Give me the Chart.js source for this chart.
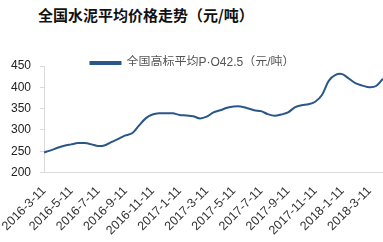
<!DOCTYPE html>
<html>
<head>
<meta charset="utf-8">
<script src="https://cdn.jsdelivr.net/npm/chart.js@4.4.1/dist/chart.umd.min.js"></script>
<style>
    html, body { margin: 0; padding: 0; background: #fff; }
    #wrap { position: relative; width: 383px; height: 242px; }
    #title {
        position: absolute; left: 38px; top: 4px;
        font: bold 15px "Noto Sans CJK SC", sans-serif; color: #111;
    }
    canvas { position: absolute; left: 0; top: 0; }
</style>
</head>
<body>
<div id="wrap">
    <div id="title">全国水泥平均价格走势（元/吨）</div>
    <canvas id="chart" width="383" height="242"></canvas>
</div>
<script>
// x ticks every 2 months, one data point every half month
const xTickLabels = ['2016-3-11', '2016-5-11', '2016-7-11', '2016-9-11', '2016-11-11', '2017-1-11',
    '2017-3-11', '2017-5-11', '2017-7-11', '2017-9-11', '2017-11-11', '2018-1-11', '2018-3-11'];
const seriesName = '全国高标平均P·O42.5（元/吨）';
const priceValues = [
    247, 252, 258, 263, 266, 269, 269, 266, 262, 264,
    272, 279, 287, 292, 310, 327, 336, 339, 339, 339,
    335, 334, 332, 327, 331, 341, 346, 352, 355, 355,
    351, 346, 344, 337, 333, 336, 341, 353, 358, 360,
    366, 382, 415, 429, 431, 420, 409, 404, 400, 403,
    420
];
const yTicks = [200, 250, 300, 350, 400, 450];

const fontFamily = '"Liberation Sans", "Noto Sans CJK SC", sans-serif';

// let the legend sit close to the plot top, like the original
const tightLegend = {
    id: 'tightLegend',
    afterInit(chart) {
        const legend = chart.legend;
        if (!legend) return;
        const fit = legend.fit;
        legend.fit = function() {
            fit.call(this);
            this.height = Math.max(0, this.height - 13);
        };
    }
};

new Chart(document.getElementById('chart'), {
    type: 'line',
    data: {
        datasets: [{
            label: seriesName,
            data: priceValues.map((v, i) => ({x: i, y: v})),
            borderColor: '#2a5788',
            backgroundColor: '#2a5788',
            borderWidth: 2,
            pointRadius: 0,
            tension: 0.3
        }]
    },
    plugins: [tightLegend],
    options: {
        responsive: false,
        animation: false,
        layout: {padding: {top: 53, left: 2, right: 0, bottom: 1}},
        plugins: {
            legend: {
                display: true,
                position: 'top',
                labels: {
                    boxWidth: 30,
                    boxHeight: 2,
                    padding: 4,
                    color: '#555',
                    font: {family: fontFamily, size: 12}
                }
            },
            tooltip: {enabled: false}
        },
        scales: {
            x: {
                type: 'linear',
                min: 0,
                max: priceValues.length - 1,
                afterBuildTicks: axis => { axis.ticks = xTickLabels.map((t, i) => ({value: i * 4})); },
                grid: {display: false},
                border: {display: true, color: '#d9d9d9', width: 1},
                ticks: {
                    autoSkip: false,
                    maxRotation: 45,
                    minRotation: 45,
                    padding: 3,
                    color: '#333',
                    font: {family: fontFamily, size: 12.5},
                    callback: v => xTickLabels[v / 4] || ''
                }
            },
            y: {
                min: yTicks[0],
                max: yTicks[yTicks.length - 1],
                afterBuildTicks: axis => { axis.ticks = yTicks.map(v => ({value: v})); },
                grid: {drawOnChartArea: false, drawTicks: true, tickLength: 4, color: '#d9d9d9'},
                border: {display: true, color: '#d9d9d9', width: 1},
                ticks: {
                    padding: 9,
                    color: '#222',
                    font: {family: fontFamily, size: 12}
                }
            }
        }
    }
});
</script>
</body>
</html>
